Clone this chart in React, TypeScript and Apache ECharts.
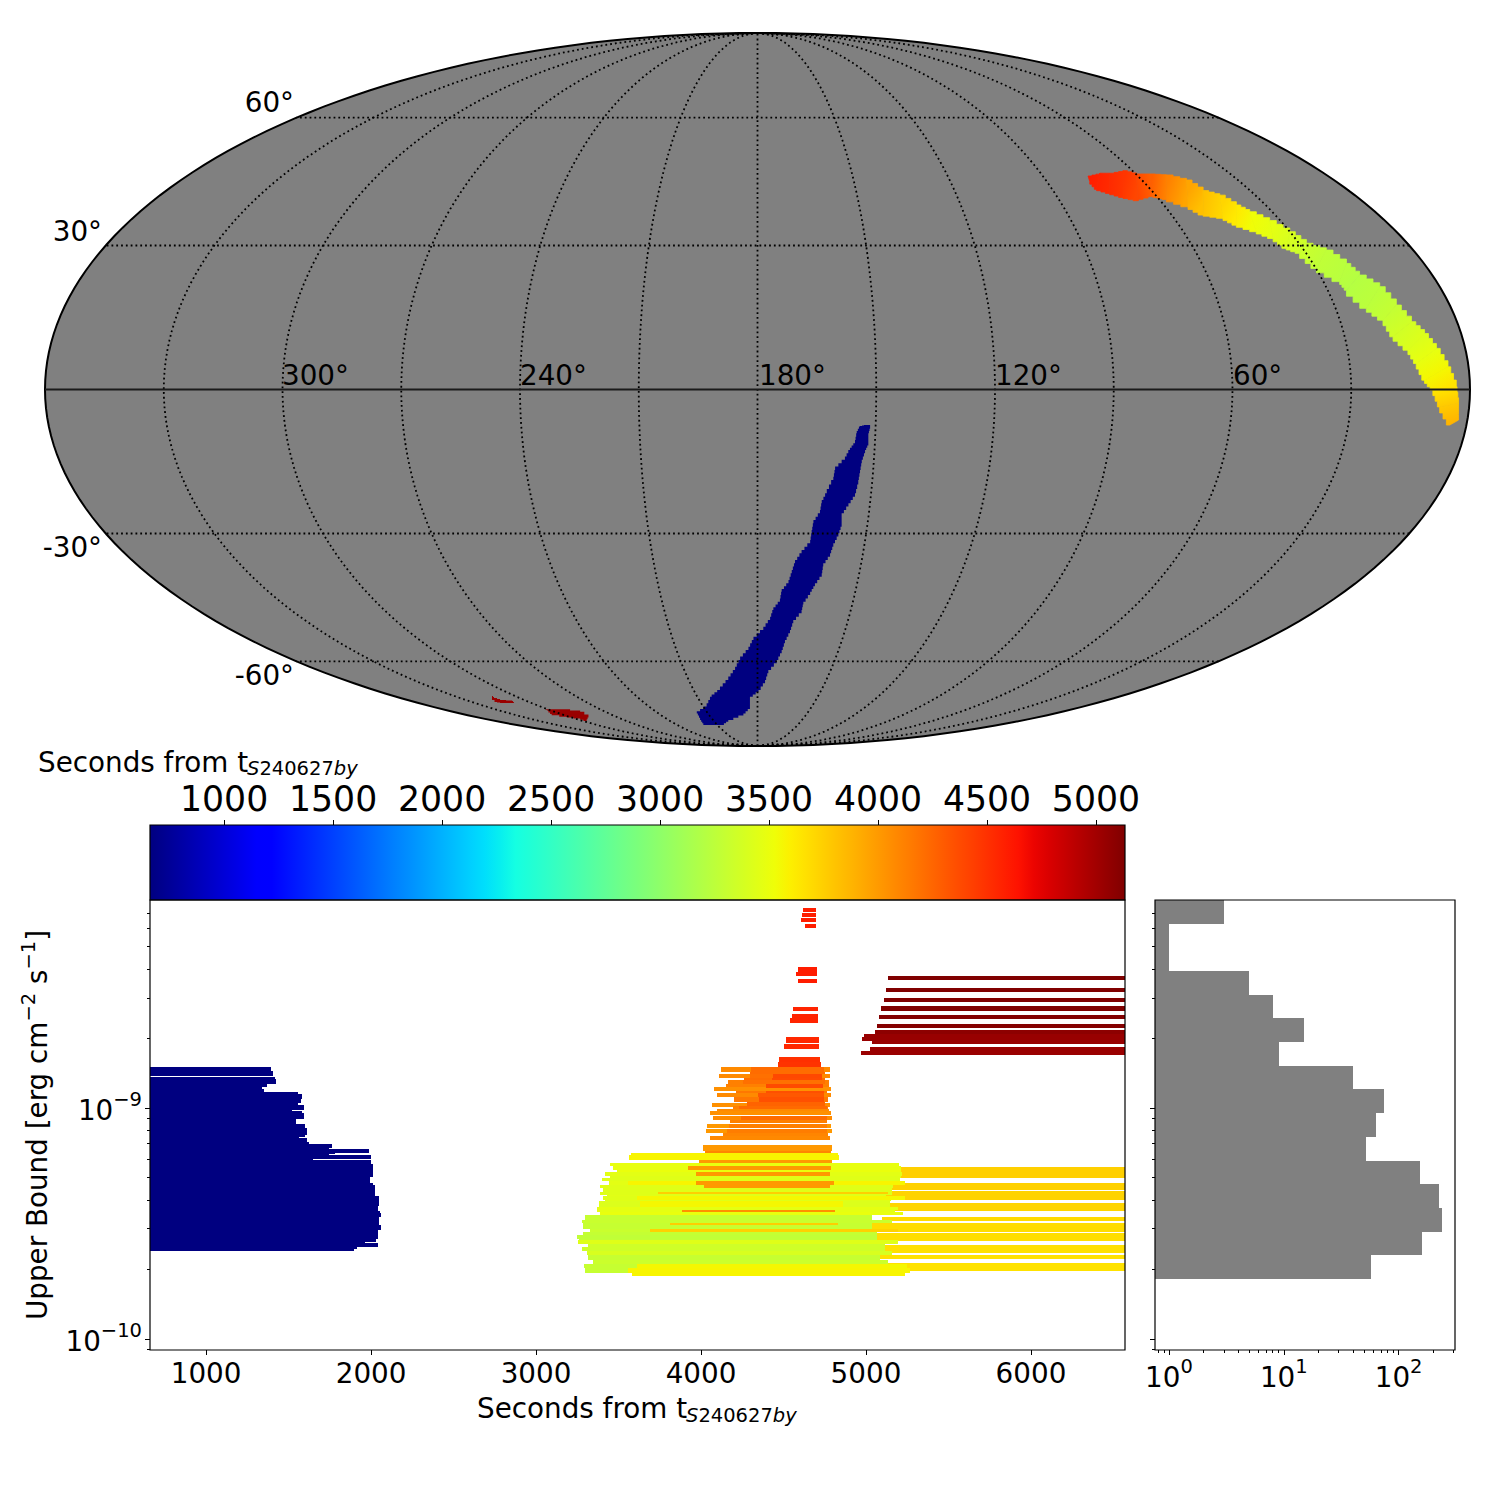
import React, { useEffect, useRef } from "react";
import * as echarts from "echarts";

// ---- colour scale (seconds) ----
const colorMin = 660;
const colorMax = 5133;
const colorbarTicks = [1000, 1500, 2000, 2500, 3000, 3500, 4000, 4500, 5000];
const secondsTicks = [1000, 2000, 3000, 4000, 5000, 6000];
const fluxMajorTicks = [-10, -9];
const histMajorTicks = [0, 1, 2];
const minorFactors = [2, 3, 4, 5, 6, 7, 8, 9];

// ---- scatter stripes: [log10 flux high, log10 flux low, start s, end s, colour s] ----
const blueStripes = [
  [-8.821, -8.841, 660, 1394, 660], [-8.841, -8.861, 660, 1406, 660], [-8.867, -8.876, 660, 1420, 660],
  [-8.876, -8.896, 660, 1424, 660], [-8.896, -8.908, 660, 1370, 660], [-8.908, -8.919, 660, 1341, 660],
  [-8.919, -8.929, 660, 1351, 660], [-8.929, -8.939, 660, 1557, 660], [-8.939, -8.960, 660, 1582, 660],
  [-8.960, -8.977, 660, 1574, 660], [-8.977, -8.989, 660, 1560, 660], [-8.989, -9.009, 660, 1594, 660],
  [-9.009, -9.015, 660, 1521, 660], [-9.015, -9.020, 660, 1584, 660], [-9.020, -9.046, 660, 1594, 660],
  [-9.046, -9.055, 660, 1545, 660], [-9.055, -9.069, 660, 1543, 660], [-9.069, -9.088, 660, 1600, 660],
  [-9.088, -9.117, 660, 1612, 660], [-9.117, -9.127, 660, 1600, 660], [-9.127, -9.131, 660, 1564, 660],
  [-9.131, -9.146, 660, 1610, 660], [-9.146, -9.154, 660, 1622, 660], [-9.154, -9.175, 660, 1764, 660],
  [-9.175, -9.178, 660, 1745, 660], [-9.178, -9.196, 660, 1988, 660], [-9.196, -9.199, 660, 1782, 660],
  [-9.199, -9.204, 660, 1745, 660], [-9.204, -9.222, 660, 2000, 660], [-9.222, -9.225, 660, 1648, 660],
  [-9.225, -9.243, 660, 2000, 660], [-9.243, -9.297, 660, 2012, 660], [-9.297, -9.323, 660, 1994, 660],
  [-9.323, -9.333, 660, 2012, 660], [-9.333, -9.352, 660, 2022, 660], [-9.352, -9.381, 660, 2024, 660],
  [-9.381, -9.424, 660, 2048, 660], [-9.424, -9.445, 660, 2042, 660], [-9.445, -9.456, 660, 2054, 660],
  [-9.456, -9.473, 660, 2060, 660], [-9.473, -9.508, 660, 2048, 660], [-9.508, -9.528, 660, 2060, 660],
  [-9.528, -9.566, 660, 2042, 660], [-9.566, -9.580, 660, 2030, 660], [-9.580, -9.583, 660, 1964, 660],
  [-9.583, -9.600, 660, 2042, 660], [-9.600, -9.612, 660, 1913, 660], [-9.612, -9.619, 660, 1895, 660],
];

const goldStripes = [
  [-9.255, -9.303, 5100, 6570, 3750], [-9.325, -9.355, 5100, 6570, 3740], [-9.359, -9.398, 5100, 6570, 3730],
  [-9.411, -9.446, 5100, 6570, 3720], [-9.472, -9.489, 5100, 6570, 3700], [-9.498, -9.537, 5000, 6570, 3690],
  [-9.541, -9.576, 5000, 6570, 3680], [-9.593, -9.628, 5100, 6570, 3670], [-9.636, -9.654, 5000, 6570, 3665],
  [-9.671, -9.706, 5100, 6570, 3660],
];

const limeStripes = [
  [-9.193, -9.205, 3575, 4832, 3572], [-9.205, -9.225, 3563, 4836, 3572], [-9.240, -9.251, 3448, 5201, 3487],
  [-9.251, -9.268, 3468, 5213, 3487], [-9.268, -9.277, 3488, 5213, 3500], [-9.277, -9.294, 3418, 5221, 3460],
  [-9.294, -9.304, 3448, 5215, 3440], [-9.304, -9.315, 3397, 5209, 3440], [-9.315, -9.333, 3440, 3559, 3460],
  [-9.315, -9.333, 3559, 5236, 3572], [-9.333, -9.348, 3387, 5165, 3440], [-9.348, -9.362, 3408, 5155, 3440],
  [-9.362, -9.377, 3387, 5155, 3440], [-9.377, -9.381, 3430, 5120, 3450], [-9.381, -9.398, 3404, 5165, 3440],
  [-9.381, -9.398, 3614, 5236, 3560], [-9.398, -9.405, 3420, 5150, 3440], [-9.405, -9.427, 3383, 5145, 3420],
  [-9.405, -9.427, 3630, 4858, 3560], [-9.427, -9.442, 3371, 5195, 3470], [-9.442, -9.450, 3371, 5175, 3470],
  [-9.450, -9.463, 3387, 5226, 3490], [-9.463, -9.485, 3297, 5034, 3300], [-9.485, -9.499, 3276, 5155, 3320],
  [-9.499, -9.508, 3286, 5034, 3300], [-9.508, -9.525, 3286, 5034, 3300], [-9.525, -9.537, 3330, 3690, 3320],
  [-9.537, -9.551, 3286, 5064, 3290], [-9.551, -9.569, 3246, 5064, 3267], [-9.569, -9.571, 3260, 5064, 3280],
  [-9.571, -9.589, 3256, 5195, 3438], [-9.589, -9.600, 3317, 5115, 3350], [-9.600, -9.619, 3276, 5115, 3350],
  [-9.619, -9.636, 3307, 5155, 3400], [-9.636, -9.658, 3317, 5084, 3300], [-9.658, -9.675, 3347, 5135, 3330],
  [-9.675, -9.695, 3290, 3614, 3300], [-9.675, -9.695, 3614, 5246, 3560], [-9.695, -9.716, 3297, 3559, 3300],
  [-9.695, -9.716, 3559, 5266, 3572], [-9.716, -9.727, 3579, 5238, 3572],
];

const clusterAccentStripes = [
  [-9.366, -9.372, 3737, 5135, 3750], [-9.525, -9.537, 3690, 5195, 3740], [-9.499, -9.508, 3812, 4832, 3760],
  [-9.442, -9.450, 3882, 4811, 4050], [-9.159, -9.185, 4014, 4791, 4010], [-9.185, -9.193, 4024, 4785, 4090],
  [-9.225, -9.240, 3987, 4797, 4010], [-9.251, -9.268, 3923, 4785, 4010], [-9.277, -9.294, 3969, 4781, 4010],
  [-9.315, -9.333, 3969, 4805, 4010], [-9.333, -9.348, 4018, 4781, 4010],
];

const orangeBackStripes = [
  [-8.823, -8.844, 4121, 4781, 4077], [-8.853, -8.870, 4109, 4781, 4077], [-8.879, -8.896, 4163, 4775, 4123],
  [-8.896, -8.913, 4151, 4775, 4123], [-8.909, -8.926, 4078, 4787, 4050], [-8.926, -8.944, 4212, 4763, 4162],
  [-8.935, -8.952, 4097, 4787, 4077], [-8.952, -8.974, 4200, 4769, 4162], [-8.978, -8.996, 4066, 4781, 4050],
  [-8.991, -9.009, 4194, 4769, 4123], [-9.004, -9.013, 4097, 4775, 4077], [-9.013, -9.030, 4054, 4787, 4050],
  [-9.033, -9.052, 4072, 4793, 4077], [-9.052, -9.066, 4175, 4763, 4123], [-9.069, -9.087, 4036, 4787, 4011],
  [-9.091, -9.108, 4030, 4793, 4011], [-9.108, -9.121, 4133, 4769, 4100], [-9.121, -9.139, 4054, 4781, 4080],
  [-9.160, -9.178, 4012, 4793, 4011],
];

const orangeFrontStripes = [
  [-8.823, -8.844, 4303, 4745, 4219], [-8.844, -8.853, 4297, 4751, 4219], [-8.853, -8.870, 4297, 4436, 4200],
  [-8.853, -8.870, 4436, 4733, 4390], [-8.870, -8.879, 4260, 4751, 4219], [-8.870, -8.879, 4430, 4733, 4380],
  [-8.879, -8.896, 4254, 4751, 4200], [-8.896, -8.913, 4394, 4739, 4380], [-8.926, -8.944, 4394, 4745, 4350],
  [-8.935, -8.952, 4345, 4745, 4314], [-8.952, -8.974, 4351, 4745, 4350], [-8.974, -8.996, 4278, 4751, 4260],
  [-8.991, -9.004, 4230, 4763, 4230], [-9.033, -9.052, 4242, 4763, 4219], [-9.069, -9.087, 4169, 4763, 4123],
  [-9.091, -9.108, 4157, 4763, 4140],
];

const redStripes = [
  [-8.134, -8.152, 4618, 4697, 4587], [-8.156, -8.173, 4612, 4697, 4587], [-8.178, -8.195, 4606, 4697, 4587],
  [-8.204, -8.221, 4630, 4697, 4587], [-8.390, -8.411, 4587, 4703, 4600], [-8.411, -8.429, 4575, 4703, 4600],
  [-8.442, -8.459, 4587, 4703, 4600], [-8.563, -8.580, 4557, 4709, 4560], [-8.593, -8.610, 4551, 4709, 4560],
  [-8.610, -8.632, 4539, 4709, 4560], [-8.693, -8.719, 4515, 4715, 4546], [-8.723, -8.745, 4503, 4715, 4546],
  [-8.779, -8.801, 4472, 4721, 4502], [-8.801, -8.823, 4466, 4727, 4490],
];

const maroonStripes = [
  [-8.429, -8.446, 5133, 6570, 5140], [-8.481, -8.498, 5121, 6570, 5140], [-8.524, -8.541, 5109, 6570, 5140],
  [-8.559, -8.580, 5090, 6570, 5130], [-8.597, -8.615, 5078, 6570, 5120], [-8.636, -8.654, 5066, 6570, 5110],
  [-8.662, -8.680, 5054, 6570, 5080], [-8.680, -8.693, 4987, 6570, 5040], [-8.693, -8.710, 4975, 6570, 5040],
  [-8.710, -8.723, 5036, 6570, 5040], [-8.736, -8.753, 5024, 6570, 5030], [-8.753, -8.771, 4969, 6570, 5030],
];

// ---- histogram ----
const histEdges = [-8.1, -8.203, -8.305, -8.407, -8.51, -8.611, -8.714, -8.818, -8.918, -9.022, -9.126, -9.229, -9.329, -9.433, -9.537, -9.636, -9.74];
const histCounts = [3, 1, 1, 5, 8, 15, 9, 40, 75, 63, 52, 155, 225, 240, 160, 58];

// ---- sky regions, in Mollweide projected units ----
// [x upper edge, y upper edge, x lower edge, y lower edge, colour s]
const skyArcSections = [
  [1.312, 0.847, 1.319, 0.825, 4600], [1.359, 0.858, 1.346, 0.794, 4570], [1.398, 0.858, 1.398, 0.778, 4530],
  [1.451, 0.868, 1.451, 0.762, 4480], [1.504, 0.855, 1.511, 0.749, 4400], [1.557, 0.855, 1.570, 0.765, 4280],
  [1.623, 0.851, 1.623, 0.754, 4120], [1.703, 0.831, 1.709, 0.725, 3950], [1.769, 0.789, 1.769, 0.692, 3820],
  [1.835, 0.771, 1.848, 0.679, 3720], [1.901, 0.732, 1.901, 0.652, 3620], [1.954, 0.705, 1.980, 0.626, 3530],
  [2.033, 0.670, 2.047, 0.599, 3470], [2.113, 0.626, 2.099, 0.560, 3400], [2.179, 0.580, 2.152, 0.540, 3330],
  [2.258, 0.553, 2.219, 0.480, 3270], [2.338, 0.500, 2.311, 0.428, 3230], [2.390, 0.454, 2.338, 0.394, 3210],
  [2.470, 0.408, 2.417, 0.322, 3240], [2.536, 0.335, 2.483, 0.275, 3290], [2.596, 0.269, 2.523, 0.209, 3360],
  [2.648, 0.222, 2.582, 0.156, 3420], [2.695, 0.163, 2.615, 0.103, 3480], [2.741, 0.090, 2.648, 0.037, 3560],
  [2.774, 0.011, 2.681, -0.002, 3650], [2.783, -0.055, 2.708, -0.069, 3780], [2.783, -0.121, 2.748, -0.141, 3880],
];
// [y, x left edge, x right edge]
const skyBlueSections = [
  [-0.141, 0.430, 0.447], [-0.147, 0.407, 0.447], [-0.174, 0.394, 0.440], [-0.213, 0.387, 0.440], [-0.240, 0.367, 0.427],
  [-0.279, 0.347, 0.414], [-0.319, 0.308, 0.407], [-0.359, 0.301, 0.400], [-0.412, 0.275, 0.387], [-0.451, 0.255, 0.361],
  [-0.491, 0.248, 0.334], [-0.531, 0.222, 0.334], [-0.570, 0.215, 0.321], [-0.610, 0.209, 0.301], [-0.650, 0.175, 0.288],
  [-0.689, 0.149, 0.261], [-0.729, 0.136, 0.255], [-0.769, 0.123, 0.228], [-0.802, 0.096, 0.209], [-0.842, 0.089, 0.182],
  [-0.875, 0.063, 0.175], [-0.914, 0.050, 0.142], [-0.954, 0.023, 0.129], [-0.994, -0.016, 0.109], [-1.033, -0.036, 0.096],
  [-1.073, -0.069, 0.076], [-1.113, -0.089, 0.043], [-1.152, -0.116, 0.030], [-1.192, -0.149, 0.004], [-1.219, -0.182, -0.030],
  [-1.258, -0.202, -0.030], [-1.285, -0.241, -0.056], [-1.311, -0.228, -0.116], [-1.331, -0.215, -0.142],
];
const skyRedPatchA = [
  [-1.054, -1.216], [-1.046, -1.224], [-1.022, -1.232], [-0.974, -1.236], [-0.967, -1.244], [-1.010, -1.244], [-1.034, -1.240], [-1.054, -1.224],
];
const skyRedPatchB = [
  [-0.843, -1.268], [-0.784, -1.268], [-0.704, -1.278], [-0.671, -1.301], [-0.678, -1.315], [-0.704, -1.305], [-0.757, -1.298], [-0.817, -1.287], [-0.830, -1.275],
];
const skyRedColorSec = 5035;

const parallels = [-60, -30, 30, 60];
const meridians = [30, 60, 90, 120, 150, 180, 210, 240, 270, 300, 330];

const FONT = "DejaVu Sans";
const SQRT2 = Math.SQRT2;

// matplotlib "jet"
const jetR = [[0, 0], [0.35, 0], [0.66, 1], [0.89, 1], [1, 0.5]];
const jetG = [[0, 0], [0.125, 0], [0.375, 1], [0.64, 1], [0.91, 0], [1, 0]];
const jetB = [[0, 0.5], [0.11, 1], [0.34, 1], [0.65, 0], [1, 0]];
function lerp(tbl: number[][], t: number) {
  for (let i = 1; i < tbl.length; i++) {
    if (t <= tbl[i][0]) {
      const [a, av] = tbl[i - 1];
      const [b, bv] = tbl[i];
      return av + ((t - a) / (b - a)) * (bv - av);
    }
  }
  return tbl[tbl.length - 1][1];
}
function jet(t: number) {
  const c = Math.max(0, Math.min(1, t));
  const f = (tbl: number[][]) => Math.round(lerp(tbl, c) * 255);
  return `rgb(${f(jetR)},${f(jetG)},${f(jetB)})`;
}
const secColor = (s: number) => jet((s - colorMin) / (colorMax - colorMin));

function moll(lonDeg: number, latDeg: number): [number, number] {
  const phi = (latDeg * Math.PI) / 180;
  let th = phi;
  if (Math.abs(latDeg) < 90)
    for (let i = 0; i < 40; i++) {
      th -= (2 * th + Math.sin(2 * th) - Math.PI * Math.sin(phi)) / (2 + 2 * Math.cos(2 * th));
    }
  const lam = ((180 - lonDeg) * Math.PI) / 180;
  return [((2 * SQRT2) / Math.PI) * lam * Math.cos(th), SQRT2 * Math.sin(th)];
}
const samples = (a: number, b: number, n: number) => Array.from({ length: n + 1 }, (_, i) => a + ((b - a) * i) / n);

// pixel-like staircase outline between two positions
function stair(a: number[], b: number[], n: number) {
  const pts: number[][] = [];
  for (let k = 1; k <= n; k++) {
    const x = a[0] + ((b[0] - a[0]) * k) / n;
    const yPrev = a[1] + ((b[1] - a[1]) * (k - 1)) / n;
    const y = a[1] + ((b[1] - a[1]) * k) / n;
    pts.push([x, yPrev], [x, y]);
  }
  return pts;
}
const stairPath = (pts: number[][], n: number) => {
  const out: number[][] = [pts[0]];
  for (let i = 1; i < pts.length; i++) out.push(...stair(pts[i - 1], pts[i], n));
  return out;
};

const log10Ticks = (exps: number[], lo: number, hi: number) =>
  exps.flatMap((e) => minorFactors.map((k) => e + Math.log10(k))).filter((v) => v > lo && v < hi);

const yMin = -10.048;
const yMax = -8.0996;
const xMin = 660;
const xMax = 6570;
const hMin = -0.122;
const hMax = 2.491;
const yMinor = log10Ticks([-11, -10, -9, -8], yMin, yMax);
const hMinor = log10Ticks([-1, 0, 1, 2], hMin, hMax);

const pow10Rich = {
  b: { fontFamily: FONT, fontSize: 27.8, color: "#000", padding: [6, 0, 0, 0] },
  e: { fontFamily: FONT, fontSize: 19.5, color: "#000", padding: [6, 0, 22, 0] },
};

const hiddenAxis = (min: number, max: number, gridIndex: number) => ({
  type: "value", gridIndex, min, max, show: false, splitLine: { show: false },
});
const tickAxis = (gridIndex: number, min: number, max: number, position: string, ticks: number[], len: number, label?: any) => ({
  type: "value", gridIndex, min, max, position,
  axisLine: { show: false, onZero: false },
  splitLine: { show: false },
  axisTick: { show: true, length: len, customValues: ticks, lineStyle: { color: "#000", width: 1 } },
  axisLabel: label ? { show: true, customValues: ticks, ...label } : { show: false },
});

const crispRect = (a: number[], b: number[], fill: string) => {
  const x = Math.round(a[0]);
  const y = Math.round(a[1]);
  return {
    type: "rect",
    shape: { x, y, width: Math.max(1, Math.round(b[0]) - x), height: Math.max(1, Math.round(b[1]) - y) },
    style: { fill },
  };
};

const stripeSeries = (data: number[][], z: number) => ({
  type: "custom", xAxisIndex: 2, yAxisIndex: 2, silent: true, z, data,
  renderItem: (_: any, api: any) =>
    crispRect(api.coord([api.value(2), api.value(0)]), api.coord([api.value(3), api.value(1)]), secColor(api.value(4))),
});

const polySeries = (pts: number[][], fill: string, z: number, stroke?: string, lw = 0, steps = 0) => ({
  type: "custom", xAxisIndex: 0, yAxisIndex: 0, silent: true, z, data: [[0, 0]],
  renderItem: (_: any, api: any) => {
    const px = pts.map((p) => api.coord(p));
    return {
      type: "polygon",
      shape: { points: steps ? stairPath(px, steps) : px },
      style: { fill, stroke: stroke || fill, lineWidth: lw },
    };
  },
});

const graticuleLine = (pts: number[][], solid = false) => ({
  type: "line", xAxisIndex: 0, yAxisIndex: 0, silent: true, z: 5, data: pts, showSymbol: false, symbol: "none",
  lineStyle: solid ? { color: "#1a1a1a", width: 2 } : { color: "#000", width: 1.8, type: [1.8, 3.0] },
});

const subRich = {
  i: { fontFamily: FONT, fontSize: 19.5, fontStyle: "italic", color: "#000" },
  d: { fontFamily: FONT, fontSize: 19.5, color: "#000" },
};
const yLabelRich = {
  a: { fontFamily: FONT, fontSize: 27.8, color: "#000" },
  u: { fontFamily: FONT, fontSize: 19.5, color: "#000", padding: [0, 0, 18, 0] },
};

const plainText = (text: string, x: number, y: number, align = "left") => ({
  type: "text", x, y, z: 50, silent: true,
  style: { text, fontFamily: FONT, fontSize: 27.8, fill: "#000", textAlign: align, textVerticalAlign: "middle" },
});
const subText = (x: number, y: number) => ({
  type: "text", x, y, z: 50, silent: true,
  style: { text: "{i|S}{d|240627}{i|by}", rich: subRich, textVerticalAlign: "middle" },
});
const frame = (x: number, y: number, width: number, height: number) => ({
  type: "rect", z: 40, silent: true, shape: { x, y, width, height }, style: { fill: "none", stroke: "#000", lineWidth: 1.2 },
});

export default function App() {
  const ref = useRef<HTMLDivElement>(null);
  useEffect(() => {
    if (!ref.current) return;
    const chart = echarts.init(ref.current, undefined, { renderer: "svg" });

    const outline = samples(0, 360, 240).map((d) => [
      2 * SQRT2 * Math.cos((d * Math.PI) / 180),
      SQRT2 * Math.sin((d * Math.PI) / 180),
    ]);
    const bluePoly = [
      ...skyBlueSections.map((s) => [s[1], s[0]]),
      ...[...skyBlueSections].reverse().map((s) => [s[2], s[0]]),
    ];
    const stops = samples(0, 1, 64).map((t) => ({ offset: t, color: jet(t) }));

    const series: any[] = [
      polySeries(outline, "#808080", 1, "#000", 2),
      polySeries(bluePoly, secColor(colorMin), 3, undefined, 0, 3),
      polySeries(skyRedPatchA, secColor(skyRedColorSec), 3, undefined, 0, 2),
      polySeries(skyRedPatchB, secColor(skyRedColorSec), 3, undefined, 0, 2),
      {
        type: "custom", xAxisIndex: 0, yAxisIndex: 0, silent: true, z: 3, data: skyArcSections,
        renderItem: (params: any, api: any) => {
          const i = params.dataIndex;
          if (i >= skyArcSections.length - 1) return null;
          const a = skyArcSections[i];
          const b = skyArcSections[i + 1];
          const at = api.coord([a[0], a[1]]);
          const ab = api.coord([a[2], a[3]]);
          const bt = api.coord([b[0], b[1]]);
          const bb = api.coord([b[2], b[3]]);
          const m0 = [(at[0] + ab[0]) / 2, (at[1] + ab[1]) / 2];
          const m1 = [(bt[0] + bb[0]) / 2, (bt[1] + bb[1]) / 2];
          const grad = new echarts.graphic.LinearGradient(m0[0], m0[1], m1[0], m1[1], [
            { offset: 0, color: secColor(a[4]) },
            { offset: 1, color: secColor(b[4]) },
          ], true);
          return {
            type: "polygon",
            shape: { points: [at, ...stair(at, bt, 3), bb, ...stair(bb, ab, 3)] },
            style: { fill: grad, stroke: grad, lineWidth: 0.8 },
          };
        },
      },
      ...meridians.map((lon) => graticuleLine(samples(-90, 90, 90).map((la) => moll(lon, la)))),
      ...parallels.map((lat) => graticuleLine(samples(0, 360, 60).map((lo) => moll(lo, lat)))),
      graticuleLine(samples(0, 360, 4).map((lo) => moll(lo, 0)), true),
      // colour bar
      {
        type: "custom", xAxisIndex: 1, yAxisIndex: 1, silent: true, z: 2, data: [[colorMin, colorMax]],
        renderItem: (_: any, api: any) => {
          const a = api.coord([api.value(0), 1]);
          const b = api.coord([api.value(1), 0]);
          return {
            type: "rect",
            shape: { x: a[0], y: a[1], width: b[0] - a[0], height: b[1] - a[1] },
            style: { fill: new echarts.graphic.LinearGradient(0, 0, 1, 0, stops) },
          };
        },
      },
      stripeSeries(blueStripes, 2),
      stripeSeries(goldStripes, 2),
      stripeSeries(limeStripes, 3),
      stripeSeries(clusterAccentStripes, 4),
      stripeSeries(orangeBackStripes, 5),
      stripeSeries(orangeFrontStripes, 6),
      stripeSeries(redStripes, 7),
      stripeSeries(maroonStripes, 7),
      // histogram
      {
        type: "custom", xAxisIndex: 3, yAxisIndex: 4, silent: true, z: 2,
        data: histCounts.map((c, i) => [c, histEdges[i], histEdges[i + 1]]),
        renderItem: (_: any, api: any) =>
          crispRect(api.coord([hMin, api.value(1)]), api.coord([Math.log10(api.value(0)), api.value(2)]), "#808080"),
      },
    ];

    const numLabel = (size: number, margin: number) => ({
      fontFamily: FONT, fontSize: size, color: "#000", margin, formatter: (v: number) => String(Math.round(v)),
    });
    const powLabel = (margin: number) => ({
      margin, rich: pow10Rich,
      formatter: (v: number) => `{b|10}{e|${String(Math.round(v)).replace("-", "\u2212")}}`,
    });

    chart.setOption({
      animation: false,
      backgroundColor: "#fff",
      grid: [
        { left: 45, top: 33, width: 1425, height: 713 },
        { left: 150, top: 825, width: 975, height: 75 },
        { left: 150, top: 900, width: 975, height: 450 },
        { left: 1155, top: 900, width: 300, height: 450 },
      ],
      xAxis: [
        hiddenAxis(-2 * SQRT2, 2 * SQRT2, 0),
        tickAxis(1, colorMin, colorMax, "top", colorbarTicks, 5, numLabel(34.7, 9)),
        tickAxis(2, xMin, xMax, "bottom", secondsTicks, 5, numLabel(27.8, 9)),
        tickAxis(3, hMin, hMax, "bottom", histMajorTicks, 5, powLabel(0)),
        tickAxis(3, hMin, hMax, "bottom", hMinor, 3),
      ],
      yAxis: [
        hiddenAxis(-SQRT2, SQRT2, 0),
        hiddenAxis(0, 1, 1),
        tickAxis(2, yMin, yMax, "left", fluxMajorTicks, 5, powLabel(8)),
        tickAxis(2, yMin, yMax, "left", yMinor, 3),
        tickAxis(3, yMin, yMax, "left", fluxMajorTicks, 5),
        tickAxis(3, yMin, yMax, "left", yMinor, 3),
      ],
      series,
      graphic: [
        frame(150, 825, 975, 75),
        frame(150, 900, 975, 450),
        frame(1155, 900, 300, 450),
        plainText("60°", 294, 102, "right"),
        plainText("30°", 102, 231, "right"),
        plainText("-30°", 102, 547, "right"),
        plainText("-60°", 294, 675, "right"),
        plainText("300°", 282, 375),
        plainText("240°", 520, 375),
        plainText("180°", 759, 375),
        plainText("120°", 995, 375),
        plainText("60°", 1233, 375),
        plainText("Seconds from t", 38, 762),
        subText(247, 768),
        plainText("Seconds from t", 477, 1408),
        subText(686, 1415),
        {
          type: "text", x: 37, y: 1125, z: 50, silent: true, rotation: Math.PI / 2,
          style: {
            text: "{a|Upper Bound [erg cm}{u|\u22122}{a| s}{u|\u22121}{a|]}",
            rich: yLabelRich, textAlign: "center", textVerticalAlign: "middle",
          },
        },
      ],
    });
    return () => chart.dispose();
  }, []);
  return <div ref={ref} style={{ position: "absolute", left: 0, top: 0, width: 1500, height: 1500 }} />;
}
